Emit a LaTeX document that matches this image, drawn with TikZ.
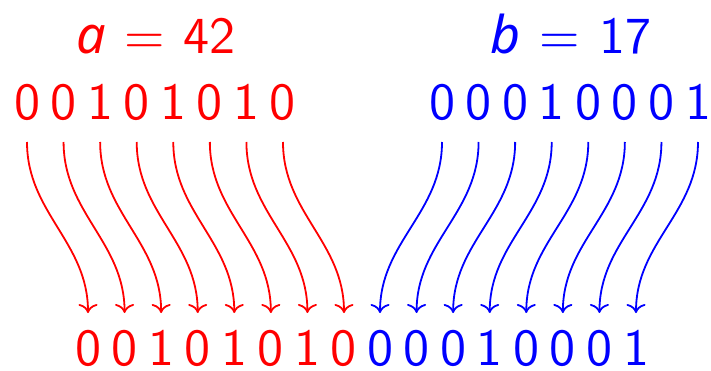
\documentclass[tikz,border=0pt]{standalone}
\usepackage{fontspec}
\usetikzlibrary{arrows.meta}
\newfontfamily\varfont{Noto Sans}
\newfontfamily\digfont{lmsans10-regular}[Extension=.otf]
\begin{document}
\begin{tikzpicture}[x=1pt,y=1pt,
  dig/.style={font=\digfont\fontsize{52}{56}\selectfont, anchor=base, inner sep=0pt},
  ttl/.style={font=\digfont\fontsize{52}{56}\selectfont, anchor=base, inner sep=0pt},
  arr/.style={line width=1.8pt, -{To[length=9pt,width=19pt]}}]
\useasboundingbox (0,0) rectangle (711,370);
\node[ttl, red] (ta) at (156,316) {{\varfont\itshape a}\hspace{19pt}=\hspace{19pt}42};
\node[ttl, blue] (tb) at (571,316) {{\varfont\itshape b}\hspace{19pt}=\hspace{19pt}17};
\foreach \d [count=\i] in {0,0,1,0,1,0,1,0} {
  \node[dig, red] (a\i) at ({27+36.57*(\i-1)}, 250) {\d};
  \node[dig, red] (c\i) at ({88+36.57*(\i-1)}, 4.5) {\d};
  \draw[arr, red] ([yshift=-22pt]a\i.base) to[out=-90,in=90] ([yshift=52.5pt]c\i.base);
}
\foreach \d [count=\i] in {0,0,0,1,0,0,0,1} {
  \node[dig, blue] (b\i) at ({442+36.57*(\i-1)}, 250) {\d};
  \node[dig, blue] (d\i) at ({380+36.57*(\i-1)}, 4.5) {\d};
  \draw[arr, blue] ([yshift=-22pt]b\i.base) to[out=-90,in=90] ([yshift=52.5pt]d\i.base);
}
\end{tikzpicture}
\end{document}
